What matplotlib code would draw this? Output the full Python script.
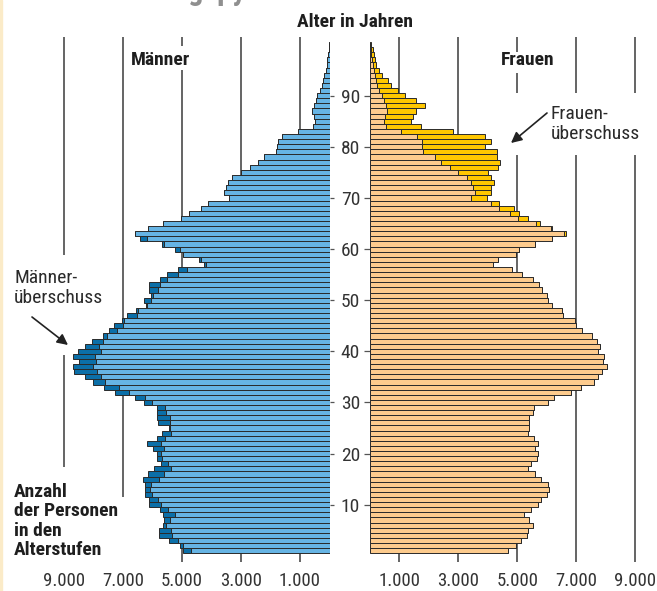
import matplotlib
matplotlib.use('Agg')
import matplotlib.pyplot as plt
from matplotlib.patches import Rectangle
import numpy as np

plt.rcParams['font.family'] = ['Roboto Condensed', 'DejaVu Sans']

# Alter 1..100
ages = list(range(1, 101))

maenner = [
    4970, 5070, 5430, 5780, 5790, 5630, 5610, 5630, 5750, 6110,
    6110, 6250, 6250, 6250, 6330, 6140, 5950, 5720, 5840, 5860,
    5970, 6180, 5860, 5690, 5430, 5810, 5840, 5860, 5860, 6290,
    6590, 7270, 7640, 8010, 8290, 8660, 8710, 8480, 8690, 8520,
    8290, 8060, 7670, 7460, 7300, 7050, 6880, 6560, 6210, 6290,
    6060, 6110, 6110, 5750, 5500, 5120, 4250, 4410, 4950, 5240,
    5690, 6420, 6580, 6140, 5650, 5030, 4760, 4370, 4120, 3420,
    3560, 3510, 3440, 3300, 2990, 2710, 2410, 2210, 1810, 1770,
    1760, 1600, 1070, 555, 480, 520, 585, 540, 470, 415,
    320, 250, 210, 175, 130, 100, 75, 50, 30, 20]

frauen = [
    4700, 4950, 5120, 5340, 5370, 5540, 5410, 5240, 5470, 5710,
    5800, 6020, 6090, 6050, 5790, 5600, 5370, 5470, 5680, 5710,
    5600, 5710, 5580, 5370, 5410, 5400, 5410, 5540, 5580, 6030,
    6260, 6810, 7150, 7610, 7750, 7880, 8030, 7900, 7950, 7750,
    7800, 7690, 7540, 7200, 6990, 6960, 6540, 6500, 6170, 6050,
    6000, 5830, 5750, 5520, 5150, 4830, 4190, 4350, 4960, 5070,
    5600, 6190, 6640, 6190, 5780, 5350, 5050, 4880, 4370, 3980,
    4100, 4120, 4220, 4120, 4010, 4350, 4430, 4310, 4310, 3920,
    4120, 3920, 2810, 1750, 1380, 1470, 1550, 1860, 1550, 1210,
    960, 730, 610, 410, 320, 210, 190, 150, 110, 40]

x_ticks = [1000, 3000, 5000, 7000, 9000]
x_labels = ['1.000', '3.000', '5.000', '7.000', '9.000']
age_ticks = [10, 20, 30, 40, 50, 60, 70, 80, 90]

light_blue = '#66B4E4'
dark_blue = '#0B6FA8'
light_orange = '#FDCB8D'
gold = '#FFC700'
edge = '#2a2a2a'
grid_c = '#3a3a3a'
txt_c = '#1e1e1e'

W, H = 657, 591
fig = plt.figure(figsize=(W / 100, H / 100), dpi=100)


def fx(px):
    return px / W


def fy(py):
    return 1 - py / H


def age_at(py):
    # pixel row -> age units
    return 10 + (504.7 - py) / 5.1125


y_top, y_bot = 37, 562
ax_m = fig.add_axes([fx(5), fy(y_bot), fx(329.5) - fx(5), fy(y_top) - fy(y_bot)])
ax_f = fig.add_axes([fx(369.8), fy(y_bot), fx(655.9) - fx(369.8), fy(y_top) - fy(y_bot)])

m = np.array(maenner)
f = np.array(frauen)
lo = np.minimum(m, f)

# bars: common part light, surplus dark
ax_m.barh(ages, lo, height=1.0, color=light_blue, edgecolor=edge, linewidth=0.7, zorder=2)
ax_m.barh(ages, np.clip(m - f, 0, None), left=lo, height=1.0, color=dark_blue,
          edgecolor=edge, linewidth=0.7, zorder=2)
ax_f.barh(ages, lo, height=1.0, color=light_orange, edgecolor=edge, linewidth=0.7, zorder=2)
ax_f.barh(ages, np.clip(f - m, 0, None), left=lo, height=1.0, color=gold,
          edgecolor=edge, linewidth=0.7, zorder=2)

# vertical lines (with gaps for the labels)
grid_m = {9000: [(y_top, 255), (355, 467)], 7000: [(y_top, 497)],
          5000: [(y_top, 46), (70, y_bot)], 3000: [(y_top, y_bot)], 1000: [(y_top, y_bot)]}
grid_f = {1000: [(y_top, y_bot)], 3000: [(y_top, y_bot)],
          5000: [(y_top, 52), (73, 93), (155, y_bot)],
          7000: [(y_top, 93), (155, y_bot)], 9000: [(y_top, 93), (155, y_bot)]}
for ax, spans in ((ax_m, grid_m), (ax_f, grid_f)):
    for xv, segs in spans.items():
        for a, b in segs:
            ax.vlines(xv, age_at(b), age_at(a), color=grid_c, linewidth=1.1, zorder=1)

ax_m.set_xlim(11000, 0)
ax_f.set_xlim(0, 9700)
for ax in (ax_m, ax_f):
    ax.set_ylim(age_at(y_bot), age_at(y_top))
    for s in ax.spines.values():
        s.set_visible(False)
    ax.set_xticks(x_ticks)
    ax.set_xticklabels(x_labels)
    ax.tick_params(axis='x', length=0, pad=7, labelsize=13.5, labelcolor='#333333')
    ax.set_yticks(age_ticks)
    ax.patch.set_alpha(0)

ax_m.yaxis.tick_right()
ax_m.set_yticklabels([])
ax_m.tick_params(axis='y', length=3, width=0.9, color='#555555')
ax_f.set_yticklabels([str(a) for a in age_ticks])
ax_f.tick_params(axis='y', length=4, width=0.9, color='#555555', pad=3,
                 labelsize=14, labelcolor='#333333')

# texts
fig.text(fx(50), fy(0), 'Bevölkerungspyramide', fontsize=22, fontweight='bold',
         color='#8f8f8f', ha='left', va='baseline')
fig.text(fx(355), fy(22), 'Alter in Jahren', ha='center', va='center',
         fontsize=14, fontweight='bold', color=txt_c)
fig.text(fx(161), fy(60), 'Männer', ha='center', va='center',
         fontsize=14, fontweight='bold', color=txt_c)
fig.text(fx(528), fy(60), 'Frauen', ha='center', va='center',
         fontsize=14, fontweight='bold', color=txt_c)
fig.text(fx(14), fy(288), 'Männer-\nüberschuss', ha='left', va='center',
         fontsize=14, color='#2a2a2a', linespacing=1.15)
fig.text(fx(551), fy(124), 'Frauen-\nüberschuss', ha='left', va='center',
         fontsize=14, color='#2a2a2a', linespacing=1.15)
fig.text(fx(14), fy(521), 'Anzahl\nder Personen\nin den\nAlterstufen', ha='left',
         va='center', fontsize=14, fontweight='bold', color=txt_c, linespacing=1.08)

arrow = dict(arrowstyle='-|>', color='#222222', lw=1.2, mutation_scale=16, shrinkA=0, shrinkB=0)
fig.add_artist(plt.Annotation('', xy=(fx(68), fy(345)), xytext=(fx(32), fy(317)),
                              xycoords='figure fraction', arrowprops=arrow))
fig.add_artist(plt.Annotation('', xy=(fx(511), fy(143)), xytext=(fx(547), fy(113)),
                              xycoords='figure fraction', arrowprops=arrow))

# pale page edge on the left
fig.add_artist(Rectangle((0, 0), fx(2), 1, transform=fig.transFigure,
                         color='#FBEBC8', zorder=0))

fig.savefig('out.png', dpi=100)
